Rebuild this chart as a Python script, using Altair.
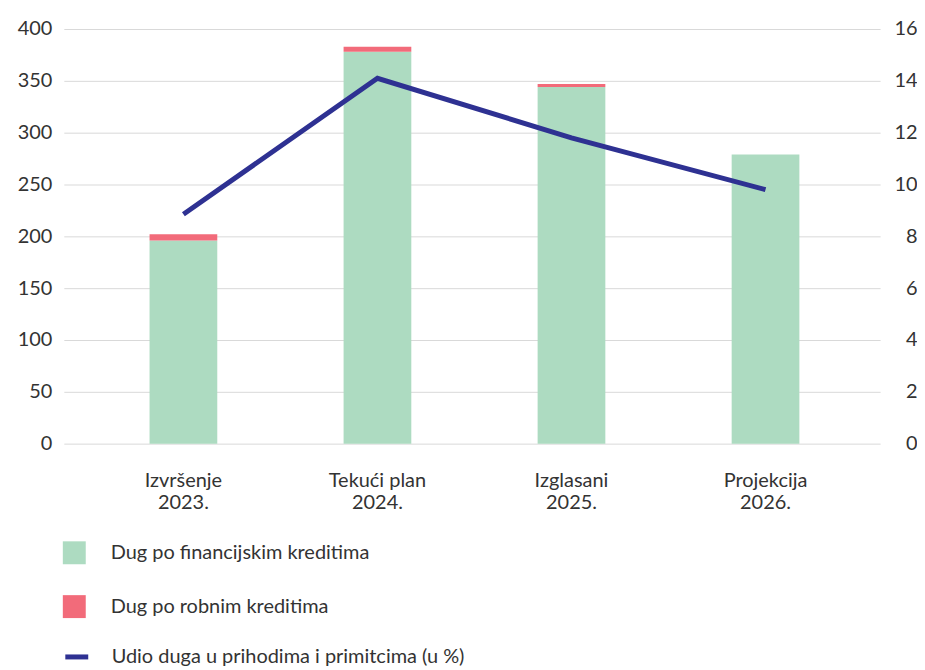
import altair as alt
import pandas as pd

categories = ["Izvršenje\n2023.", "Tekući plan\n2024.", "Izglasani\n2025.", "Projekcija\n2026."]
fin = [196, 378, 344, 279]
rob = [6, 5, 3, 0]
udio = [8.85, 14.1, 11.8, 9.8]
series = ["Dug po financijskim kreditima", "Dug po robnim kreditima"]
line_name = "Udio duga u prihodima i primitcima (u %)"
left_ticks = [0, 50, 100, 150, 200, 250, 300, 350, 400]
right_ticks = [0, 2, 4, 6, 8, 10, 12, 14, 16]

rows = []
for i, c in enumerate(categories):
    rows.append({"kat": c, "serija": series[0], "v": fin[i], "o": 0})
    rows.append({"kat": c, "serija": series[1], "v": rob[i], "o": 1})
bars_df = pd.DataFrame(rows)
line_df = pd.DataFrame({"kat": categories, "udio": udio, "s": [line_name] * 4})

FONT = "Lato"
TXT = "#333333"

xenc = alt.X(
    "kat:N",
    sort=categories,
    scale=alt.Scale(paddingInner=0.651, paddingOuter=0.429, align=0.515),
    axis=alt.Axis(
        title=None,
        labelExpr="split(datum.label, '\\n')",
        labelAngle=0,
        domain=False,
        ticks=False,
        tickSize=0,
        labelPadding=27,
        labelFontSize=20,
        labelLineHeight=22,
        labelBaseline="top",
        labelColor=TXT,
        grid=False,
    ),
)

bars = alt.Chart(bars_df).mark_bar().encode(
    x=xenc,
    y=alt.Y(
        "v:Q",
        stack="zero",
        scale=alt.Scale(domain=[0, 400]),
        axis=alt.Axis(
            title=None,
            values=left_ticks,
            orient="left",
            domain=False,
            ticks=False,
            tickSize=0,
            labelPadding=12,
            labelFontSize=20,
            labelColor=TXT,
            grid=True,
            gridColor="#d9d9d9",
            gridWidth=1,
            minExtent=50,
            maxExtent=50,
        ),
    ),
    color=alt.Color(
        "serija:N",
        scale=alt.Scale(domain=series, range=["#addbc1", "#f26b7a"]),
        legend=alt.Legend(
            title=None,
            orient="none",
            legendX=-1,
            legendY=514,
            direction="vertical",
            symbolType="square",
            symbolSize=529,
            symbolStrokeWidth=0,
            symbolOpacity=1,
            labelFontSize=20,
            labelColor=TXT,
            labelOffset=25,
            labelLimit=0,
            rowPadding=31,
            padding=0,
        ),
    ),
    order=alt.Order("o:Q"),
)

line = alt.Chart(line_df).mark_line(strokeWidth=5).encode(
    x=alt.X("kat:N", sort=categories),
    y=alt.Y(
        "udio:Q",
        scale=alt.Scale(domain=[0, 16]),
        axis=alt.Axis(
            title=None,
            values=right_ticks,
            orient="right",
            domain=False,
            ticks=False,
            tickSize=0,
            labelAlign="right",
            labelPadding=37,
            labelFontSize=20,
            labelColor=TXT,
            grid=False,
        ),
    ),
    stroke=alt.Stroke(
        "s:N",
        scale=alt.Scale(domain=[line_name], range=["#2e3192"]),
        legend=alt.Legend(
            title=None,
            orient="none",
            legendX=-1,
            legendY=616,
            symbolType="stroke",
            symbolSize=529,
            symbolStrokeWidth=5,
            labelFontSize=20,
            labelColor=TXT,
            labelOffset=21,
            labelLimit=0,
            padding=0,
        ),
    ),
)

chart = (
    alt.layer(bars, line)
    .resolve_scale(y="independent", color="independent", stroke="independent")
    .properties(width=819, height=416, padding={"left": 6, "top": 10, "right": 0, "bottom": 0})
    .configure(font=FONT)
    .configure_view(stroke=None)
)

chart.save("out.html", embed_options={"renderer": "svg", "actions": False})
